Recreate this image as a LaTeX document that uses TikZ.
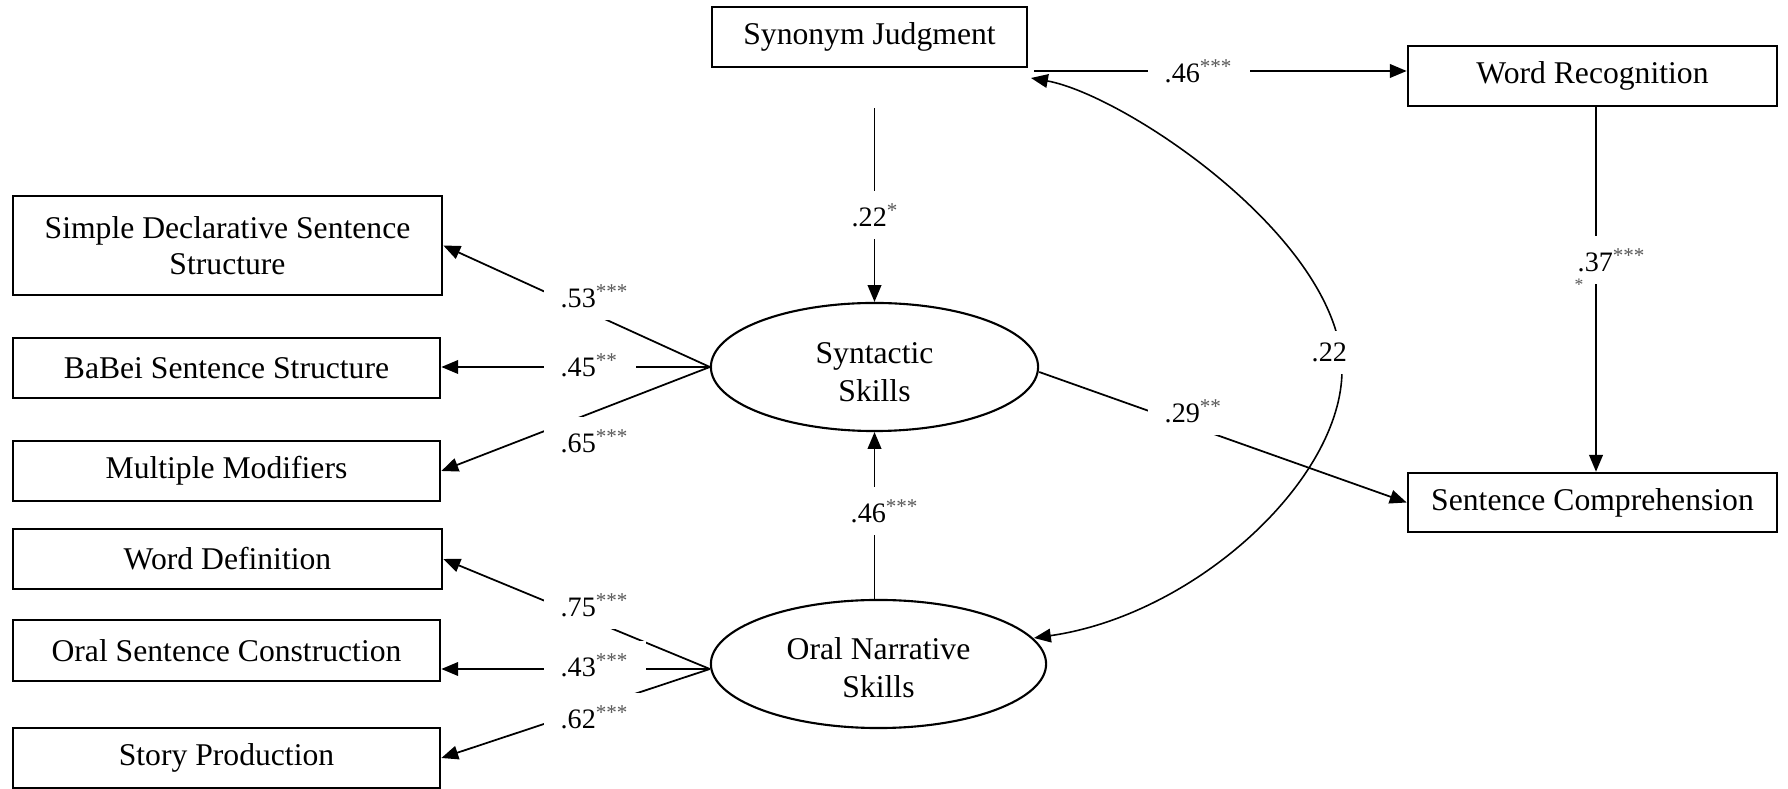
\documentclass[tikz,border=0pt]{standalone}
\usepackage{fontspec}
\setmainfont{Liberation Serif}
\usetikzlibrary{arrows.meta,shapes.geometric}
\newcommand\mysig[1]{\textsuperscript{\color{black!65}#1}}
\begin{document}
\begin{tikzpicture}[x=0.01cm,y=-0.01cm,
  box/.style={draw, line width=0.7pt, rectangle, inner sep=0pt, align=center,
    font=\fontsize{9}{10.4}\selectfont},
  lat/.style={draw, ellipse, line width=0.6pt, inner sep=0pt},
  lattext/.style={align=center, inner sep=0pt, font=\fontsize{9}{10.7}\selectfont},
  arr/.style={-{Triangle[length=4.8pt,width=3.9pt]}, line width=0.5pt},
  dbl/.style={{Triangle[length=4.8pt,width=3.9pt]}-{Triangle[length=4.8pt,width=3.9pt]}, line width=0.45pt},
  coef/.style={fill=white, inner xsep=0.17cm, inner ysep=0.12cm, anchor=base west,
    xshift=-0.17cm, font=\fontsize{8}{9.6}\selectfont}]
\useasboundingbox (0,0) rectangle (1788,789);

% observed variables
\node[box, minimum width=3.15cm, minimum height=0.60cm] (syn) at (869.5,37) {Synonym Judgment};
\node[box, minimum width=3.69cm, minimum height=0.60cm] (wr) at (1592.5,76) {Word Recognition};
\node[box, minimum width=3.69cm, minimum height=0.59cm] (sc) at (1592.5,502.5) {Sentence Comprehension};
\node[box, minimum width=4.29cm, minimum height=0.99cm] (sds) at (227.5,245.5) {Simple Declarative Sentence\\Structure};
\node[box, minimum width=4.27cm, minimum height=0.60cm] (bab) at (226.5,368) {BaBei Sentence Structure};
\node[box, minimum width=4.27cm, minimum height=0.60cm] (mm) at (226.5,471) {Multiple Modifiers};
\node[box, minimum width=4.29cm, minimum height=0.60cm] (wd) at (227.5,559) {Word Definition};
\node[box, minimum width=4.27cm, minimum height=0.61cm] (osc) at (226.5,650.5) {Oral Sentence Construction};
\node[box, minimum width=4.27cm, minimum height=0.60cm] (sp) at (226.5,758) {Story Production};

% latent variables
\node[lat, minimum width=3.27cm, minimum height=1.28cm] (syt) at (874.5,367) {};
\node[lattext] (sytt) at ([yshift=-0.05cm]syt.center) {Syntactic\\Skills};
\node[lat, minimum width=3.35cm, minimum height=1.28cm] (ons) at (878.5,664) {};
\node[lattext] (onst) at ([yshift=-0.035cm]ons.center) {Oral Narrative\\Skills};

% helper coordinates
\coordinate (s46) at (1034,71);
\coordinate (cvs) at (1031,78);
\coordinate (cve) at (1034,638);
\coordinate (onw) at ([yshift=-0.05cm]ons.west);

% structural paths
\draw[arr, shorten <=0.40cm] (syt.north |- syn.south) -- (syt.north);
\draw[arr] (s46) -- (s46 -| wr.west);
\draw[arr] (syt.south |- ons.north) -- (syt.south);
\draw[arr] ([yshift=-0.05cm]syt.east) -- (sc.west);
\draw[arr] ([xshift=0.035cm]wr.south) -- ([xshift=0.035cm]sc.north);
\draw[dbl] (cvs) .. controls (1125,95) and (1342,240) .. (1342,370)
               .. controls (1342,480) and (1195,615) .. (cve);

% measurement paths
\draw[arr] (syt.west) -- (sds.east);
\draw[arr] (syt.west) -- (syt.west -| bab.east);
\draw[arr] (syt.west) -- (mm.east);
\draw[arr] (onw) -- (wd.east);
\draw[arr] (onw) -- (onw -| osc.east);
\draw[arr] (onw) -- (sp.east);

% coefficients
\node[coef] (l22a) at (851,227) {.22\mysig{*}};
\node[coef] (l46a) at (1164,83) {.46\mysig{***}};
\node[coef] (l53) at (560,308) {.53\mysig{***}};
\node[coef] (l45) at (560,377) {.45\mysig{**}};
\node[coef] (l65) at (560,453) {.65\mysig{***}};
\node[coef] (l75) at (560,617) {.75\mysig{***}};
\node[coef] (l43) at (560,677) {.43\mysig{***}};
\node[coef] (l62) at (560,729) {.62\mysig{***}};
\node[coef] (l46b) at (850,523) {.46\mysig{***}};
\node[coef] (l29) at (1164,423) {.29\mysig{**}};
\node[coef] (l37) at (1577,272) {.37\mysig{***}};
\node[coef] (l22b) at (1311,362) {.22};
\node[font=\fontsize{5}{6}\selectfont, text=black!65, inner sep=0pt] (stray) at (1579,285) {*};
\end{tikzpicture}
\end{document}
